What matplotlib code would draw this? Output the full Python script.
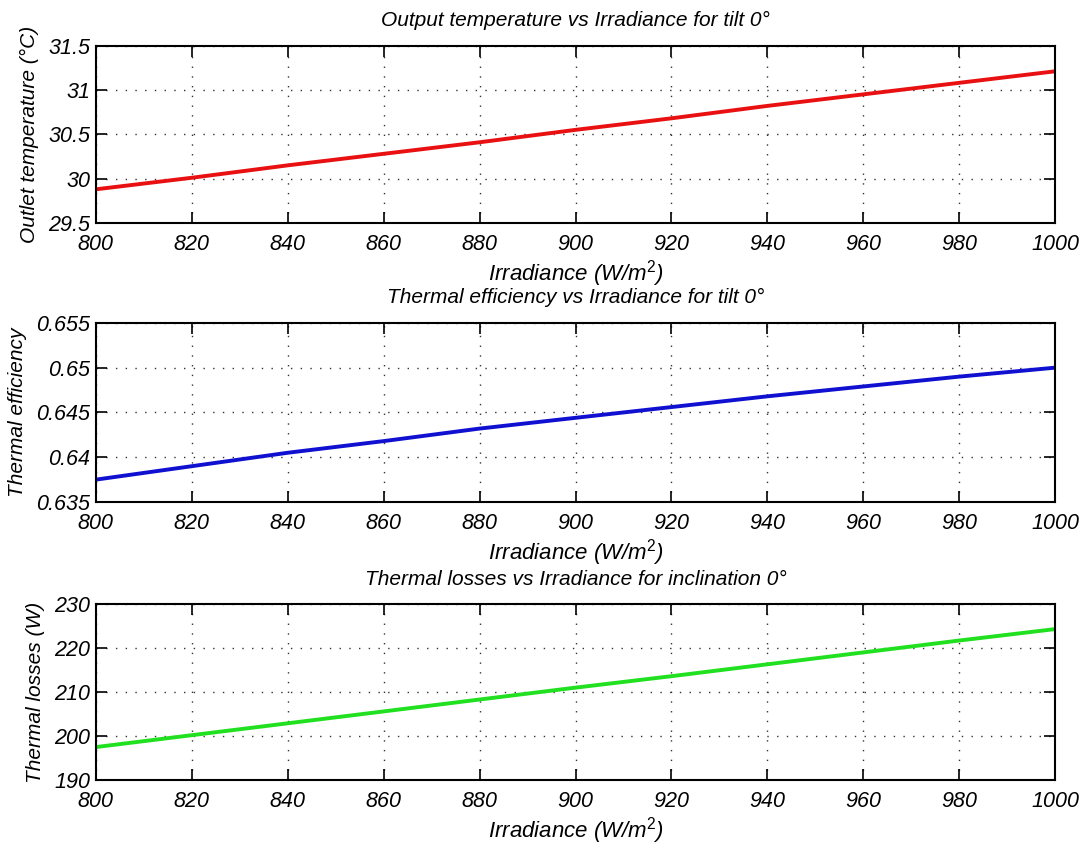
import matplotlib
matplotlib.use("Agg")
import matplotlib.pyplot as plt
import numpy as np

plt.rcParams['font.family'] = ['Liberation Sans', 'DejaVu Sans']
plt.rcParams['mathtext.fontset'] = 'custom'
plt.rcParams['mathtext.it'] = 'Liberation Sans:italic'
plt.rcParams['mathtext.rm'] = 'Liberation Sans'

irradiance = [800, 820, 840, 860, 880, 900, 920, 940, 960, 980, 1000]
outlet_temp = [29.88, 30.01, 30.15, 30.28, 30.41, 30.55, 30.68, 30.82, 30.95, 31.08, 31.21]
thermal_eff = [0.6375, 0.6390, 0.6405, 0.6418, 0.6432, 0.6444, 0.6456, 0.6468, 0.6479, 0.6490, 0.6500]
thermal_loss = [197.5, 200.2, 202.9, 205.6, 208.3, 211.0, 213.6, 216.3, 219.0, 221.7, 224.3]

xticks = [800, 820, 840, 860, 880, 900, 920, 940, 960, 980, 1000]
yticks1 = [29.5, 30, 30.5, 31, 31.5]
ytl1 = ['29.5', '30', '30.5', '31', '31.5']
yticks2 = [0.635, 0.64, 0.645, 0.65, 0.655]
ytl2 = ['0.635', '0.64', '0.645', '0.65', '0.655']
yticks3 = [190, 200, 210, 220, 230]
ytl3 = ['190', '200', '210', '220', '230']

titles = ['Output temperature vs Irradiance for tilt 0°',
          'Thermal efficiency vs Irradiance for tilt 0°',
          'Thermal losses vs Irradiance for inclination 0°']
ylabels = ['Outlet temperature (°C)', 'Thermal efficiency', 'Thermal losses (W)']
xlabel = 'Irradiance (W/m$^{2}$)'

fig = plt.figure(figsize=(10.9, 8.47), dpi=100)
positions = [
    [0.088, 0.7367, 0.880, 0.2095],
    [0.088, 0.4073, 0.880, 0.2115],
    [0.088, 0.0790, 0.880, 0.2079],
]
series = [outlet_temp, thermal_eff, thermal_loss]
colors = ['#e81010', '#1010d0', '#20e020']
yts = [(yticks1, ytl1), (yticks2, ytl2), (yticks3, ytl3)]

for i in range(3):
    ax = fig.add_axes(positions[i])
    ax.plot(irradiance, series[i], color=colors[i], lw=2.8)
    ax.set_xlim(800, 1000)
    ax.set_ylim(yts[i][0][0], yts[i][0][-1])
    ax.set_xticks(xticks)
    ax.set_xticklabels([str(v) for v in xticks], fontsize=15.5, style='italic')
    ax.set_yticks(yts[i][0])
    ax.set_yticklabels(yts[i][1], fontsize=15.5, style='italic')
    ax.tick_params(direction='in', length=8, width=1.2, top=True, right=True)
    ax.tick_params(axis='x', pad=8)
    ax.tick_params(axis='y', pad=4)
    ax.grid(True, linestyle=(0, (1, 6)), color='#333333', lw=1.0)
    for s in ax.spines.values():
        s.set_linewidth(1.5)
    ax.set_title(titles[i], fontsize=15, style='italic', pad=14)
    ax.set_xlabel(xlabel, fontsize=16, style='italic', labelpad=2)
    ax.set_ylabel(ylabels[i], fontsize=15, style='italic', labelpad=7)

fig.savefig('out.png', dpi=100)
